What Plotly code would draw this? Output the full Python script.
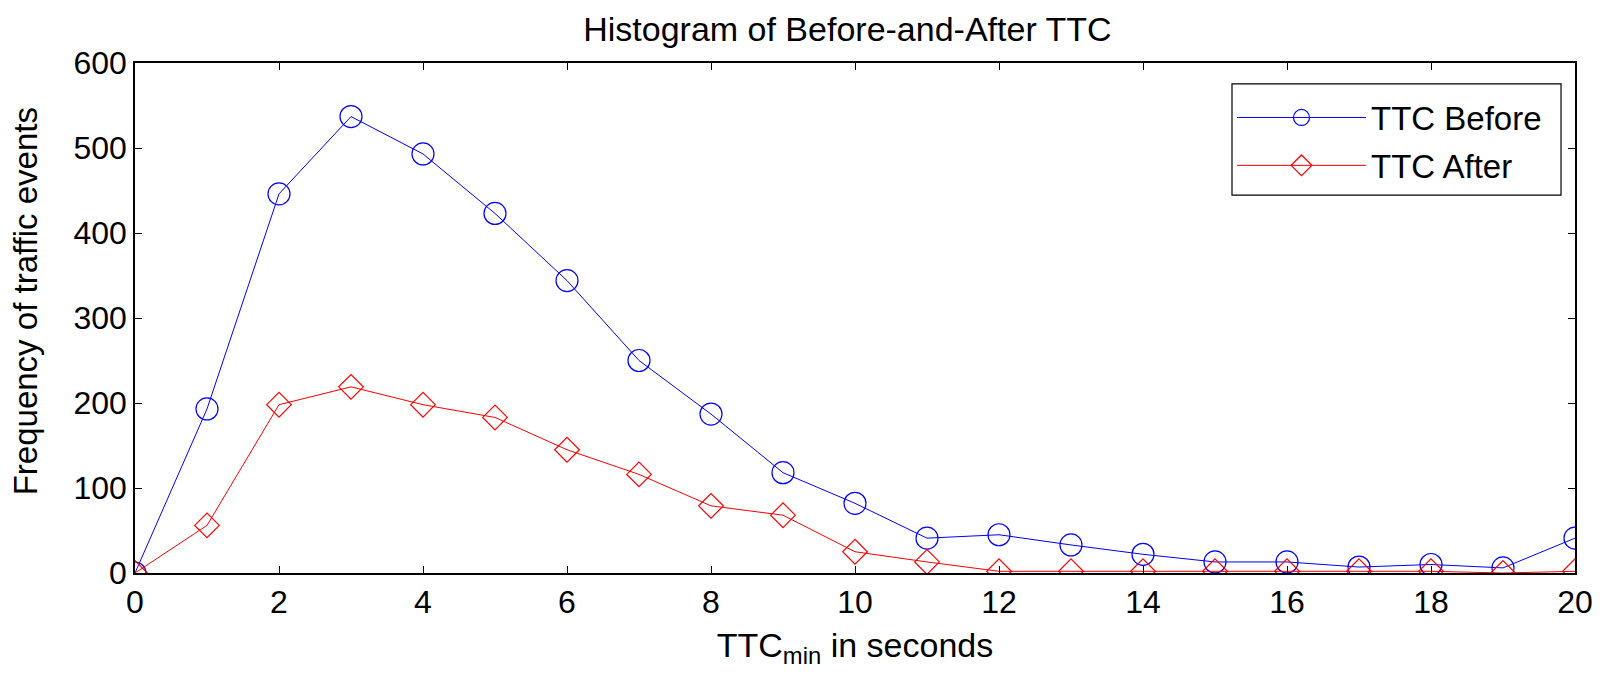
import plotly.graph_objects as go

ttc = list(range(0, 21))
before = [0, 193, 446, 537, 493, 423, 344, 250, 187, 118, 82, 41, 45, 33, 22, 13, 13, 7, 10, 6, 41]
after = [0, 56, 198, 219, 198, 183, 145, 116, 79, 68, 25, 13, 2, 2, 2, 2, 2, 2, 2, 0, 2]

FONT = "Liberation Sans, Arial, sans-serif"

fig = go.Figure()
fig.add_trace(go.Scatter(
    x=ttc, y=before, mode="lines+markers", name="TTC Before", legendgroup="b",
    line=dict(color="#0000ff", width=1),
    marker=dict(symbol="circle-open", size=22, color="#0000ff", line=dict(width=1.2)),
))
fig.add_trace(go.Scatter(
    x=ttc, y=after, mode="lines+markers", name="TTC After", legendgroup="a",
    line=dict(color="#ff0000", width=1),
    marker=dict(symbol="diamond-open", size=19, color="#ff0000", line=dict(width=1.2)),
))

axis_common = dict(
    showline=True, linecolor="black", linewidth=1.5, mirror="ticks",
    ticks="inside", ticklen=7, tickcolor="black", showgrid=False, zeroline=False,
    tickfont=dict(family=FONT, size=32, color="black"),
)

fig.update_layout(
    width=1608, height=679,
    margin=dict(l=135, r=33, t=63, b=106),
    paper_bgcolor="white", plot_bgcolor="white",
    title=dict(text="Histogram of Before-and-After TTC", x=0.527, xanchor="center",
               y=0.957, yanchor="middle",
               font=dict(family=FONT, size=34, color="black")),
    xaxis=dict(range=[0, 20], tickvals=list(range(0, 21, 2)),
               title=dict(text="TTC<sub>min</sub> in seconds", font=dict(family=FONT, size=34, color="black"),
                          standoff=14),
               **axis_common),
    yaxis=dict(range=[0, 600], tickvals=list(range(0, 601, 100)), **axis_common),
    annotations=[dict(text="Frequency of traffic events", textangle=-90,
                      xref="paper", yref="paper", x=-0.0763, y=0.533,
                      xanchor="center", yanchor="middle", showarrow=False,
                      font=dict(family=FONT, size=33, color="black"))],
    shapes=[dict(type="rect", xref="paper", yref="paper",
                 x0=0.7618, x1=0.9903, y0=0.741, y1=0.959,
                 line=dict(color="black", width=1.2), fillcolor="white", layer="below")],
    legend=dict(x=0.7618, y=0.948, xanchor="left", yanchor="top",
                bgcolor="rgba(0,0,0,0)", borderwidth=0,
                font=dict(family=FONT, size=33, color="black"),
                itemwidth=129, tracegroupgap=2),
    showlegend=True,
)

fig.write_html("out.html")
